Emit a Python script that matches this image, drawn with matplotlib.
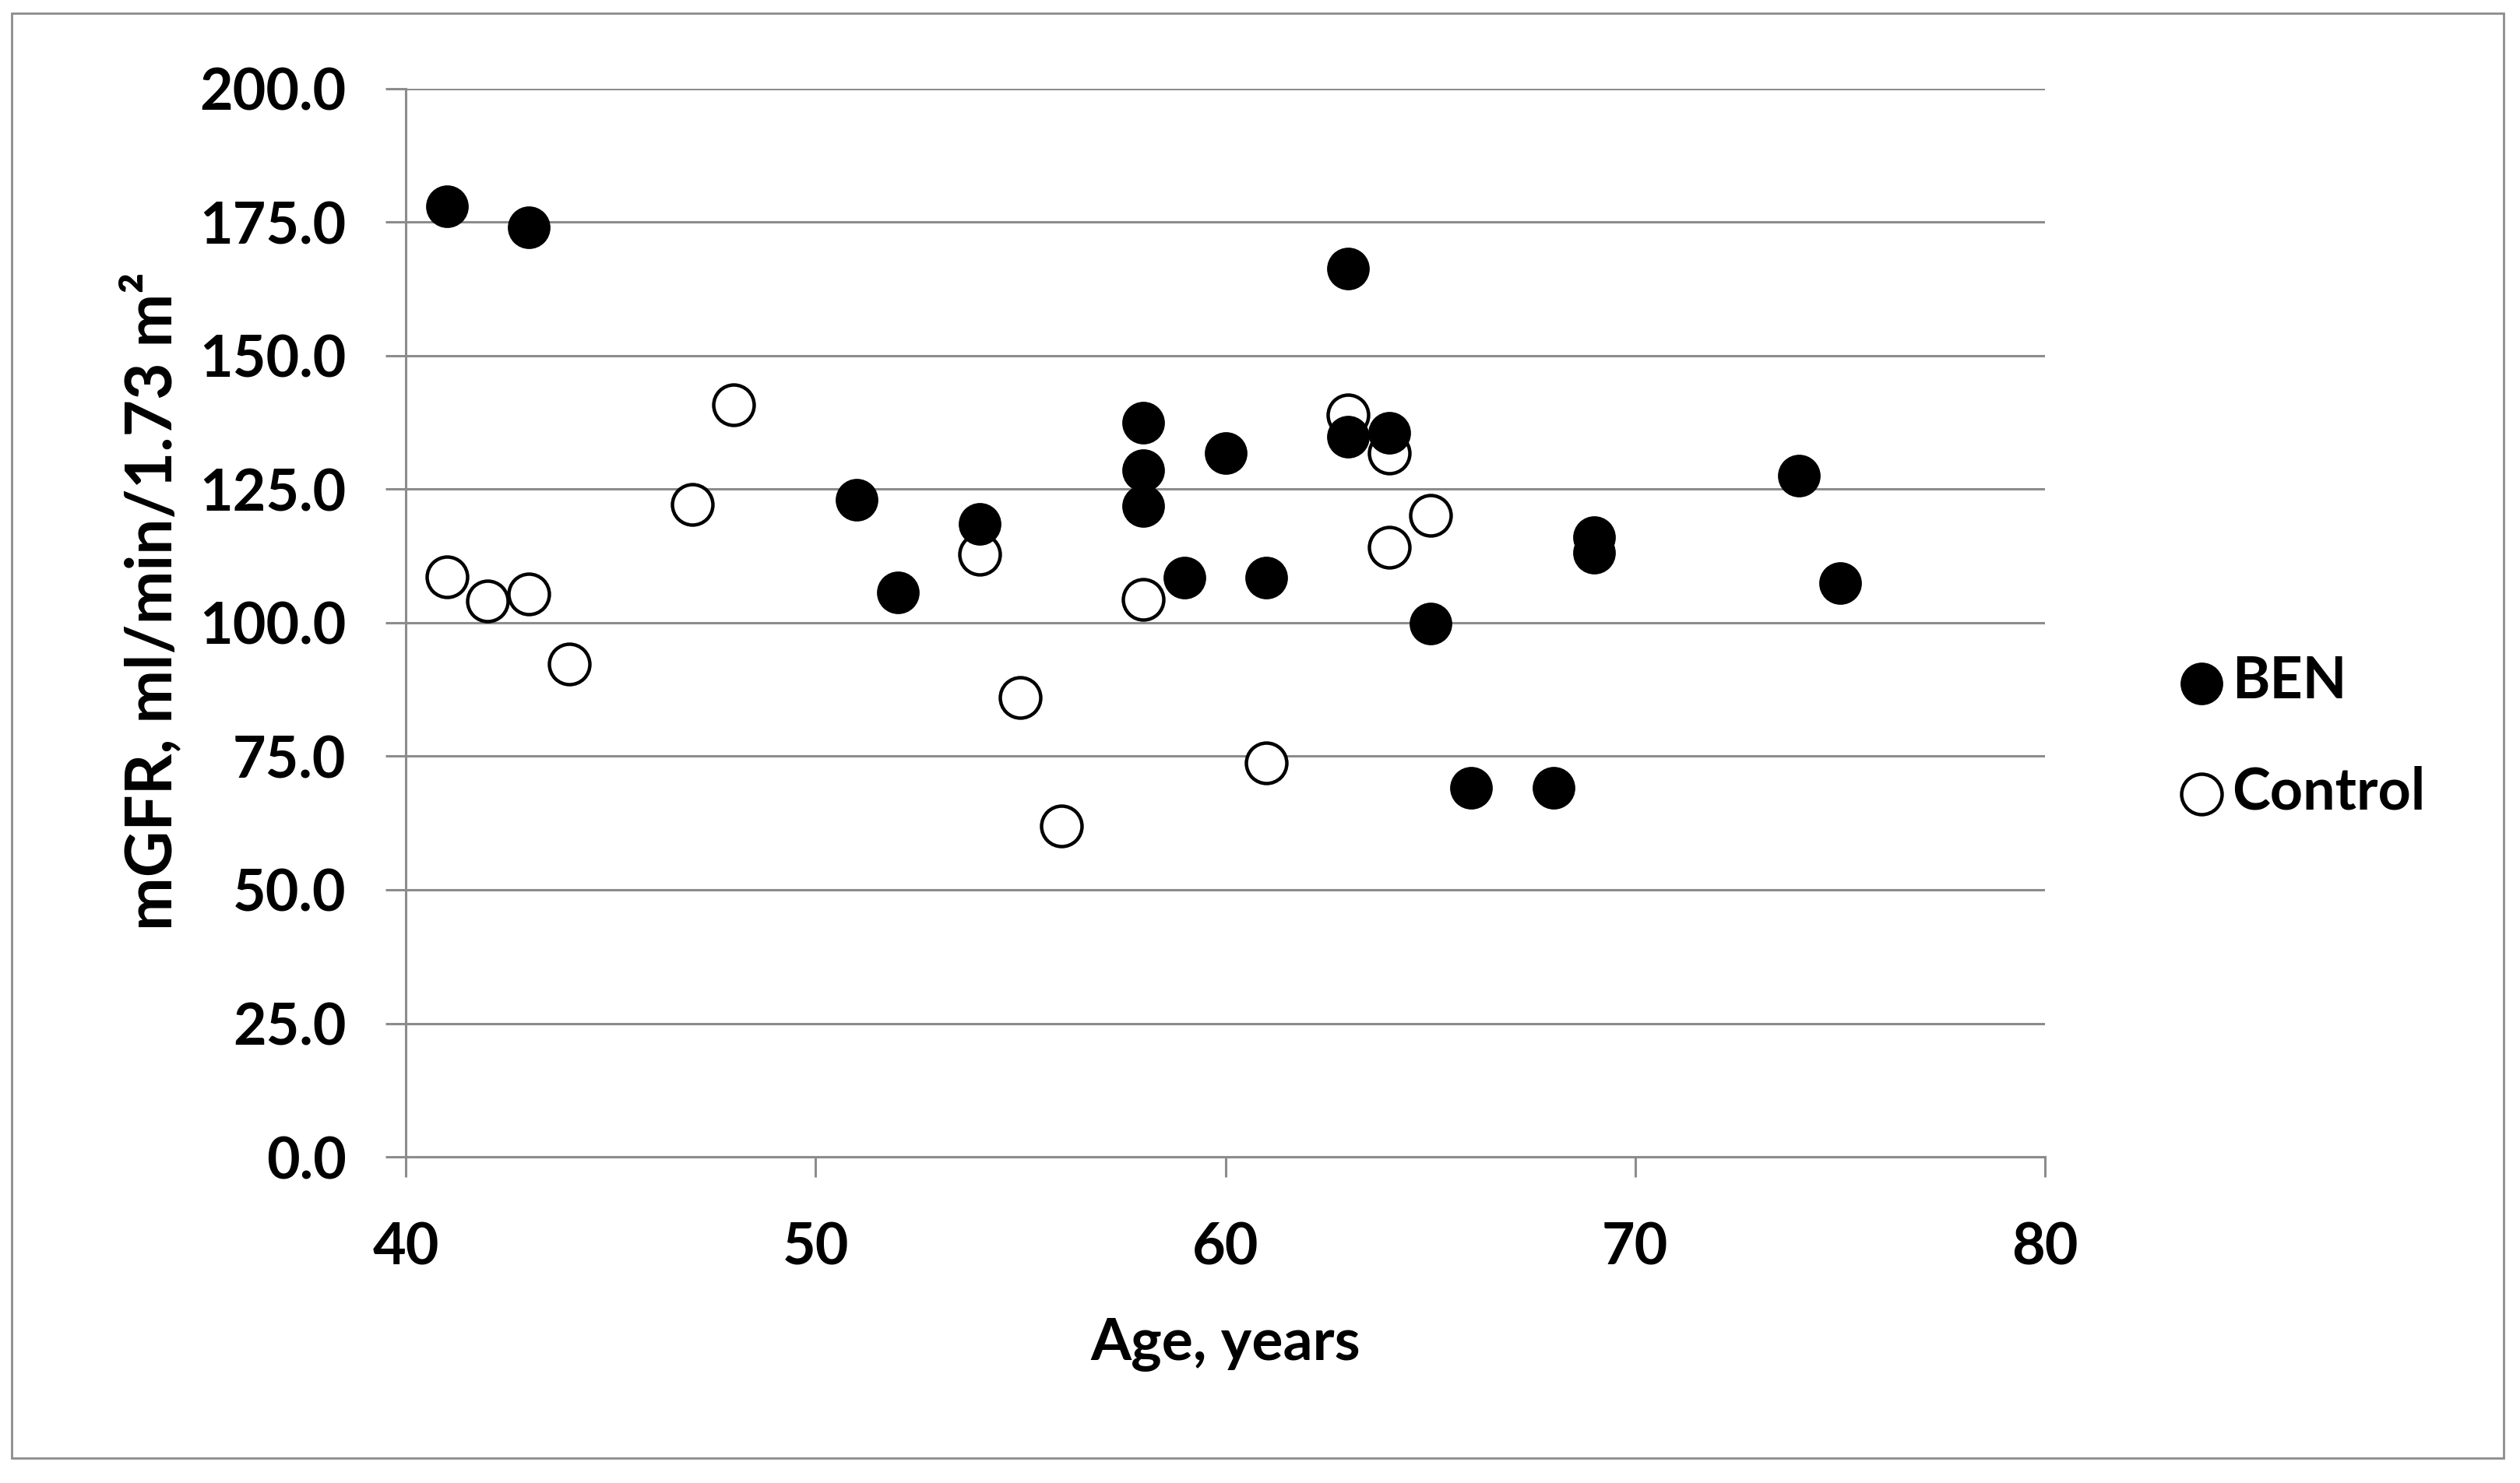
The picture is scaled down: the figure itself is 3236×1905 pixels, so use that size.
import matplotlib
matplotlib.use("Agg")
import matplotlib.pyplot as plt
from matplotlib.patches import Rectangle

plt.rcParams['font.family'] = ['Lato', 'DejaVu Sans']
plt.rcParams['font.weight'] = 'bold'

# BEN patients
ben_age = [41, 43, 51, 52, 54, 58, 58, 58, 59, 60, 61, 63, 63, 64, 65, 66, 68, 69, 69, 74, 75]
ben_gfr = [178.0, 174.0, 123.0, 105.6, 118.5, 137.4, 128.5, 121.8, 108.4, 131.8, 108.4,
           166.3, 134.8, 135.5, 99.9, 69.1, 69.1, 116.0, 113.1, 127.5, 107.4]

# controls
ctrl_age = [41, 42, 43, 44, 47, 48, 54, 55, 56, 58, 61, 63, 64, 64, 65]
ctrl_gfr = [108.6, 104.1, 105.3, 92.3, 122.1, 140.8, 112.8, 86.0, 62.0, 104.4, 73.7,
            138.9, 131.8, 114.1, 120.1]

x_ticks = [40, 50, 60, 70, 80]
y_ticks = [0, 25, 50, 75, 100, 125, 150, 175, 200]

grey = '#8c8c8c'
fs = 26.5

fig = plt.figure(figsize=(16.18, 9.525), dpi=200)
ax = fig.add_axes([0.161, 0.2199, 0.8115 - 0.161, 0.9404 - 0.2199])

ax.scatter(ctrl_age, ctrl_gfr, s=350, facecolor='white', edgecolor='black',
           linewidth=1.6, label='Control', zorder=3, clip_on=False)
ax.scatter(ben_age, ben_gfr, s=350, facecolor='black', edgecolor='black',
           linewidth=1.0, label='BEN', zorder=4, clip_on=False)

ax.set_xlim(40, 80)
ax.set_ylim(0, 200)
ax.set_xticks(x_ticks)
ax.set_yticks(y_ticks)
ax.set_yticklabels([f"{v:.1f}" for v in y_ticks])

ax.grid(axis='y', color=grey, linewidth=1.1, zorder=0)
ax.set_axisbelow(True)
for side in ['top', 'right', 'bottom']:
    ax.spines[side].set_visible(False)
ax.spines['left'].set_color(grey)
ax.spines['left'].set_linewidth(1.1)

ax.tick_params(axis='both', direction='out', length=9.5, width=1.1, color=grey,
               labelsize=fs, labelcolor='black')
ax.tick_params(axis='y', pad=18)
ax.tick_params(axis='x', pad=20)
# the 0 gridline works as the x axis, ticks hang below it
ax.axhline(0, color=grey, linewidth=1.1, zorder=1, clip_on=False)

ax.set_xlabel("Age, years", fontsize=27, fontweight='bold', labelpad=20)
ax.set_ylabel("mGFR, ml/min/1.73 m²", fontsize=29.5, fontweight='bold', labelpad=8)
ax.yaxis.label.set_y(0.52)

handles, labels = ax.get_legend_handles_labels()
fig.legend(handles[::-1], labels[::-1], loc='center left',
           bbox_to_anchor=(0.851, 0.503), frameon=False, fontsize=fs,
           borderpad=0, handlelength=1.0, handletextpad=0.03, labelspacing=1.0)

# outer frame of the chart area
fig.patches.append(Rectangle((0.0045, 0.017), 0.989, 0.974, transform=fig.transFigure,
                             fill=False, edgecolor=grey, linewidth=1.0))

fig.savefig("out.png", dpi=200)
